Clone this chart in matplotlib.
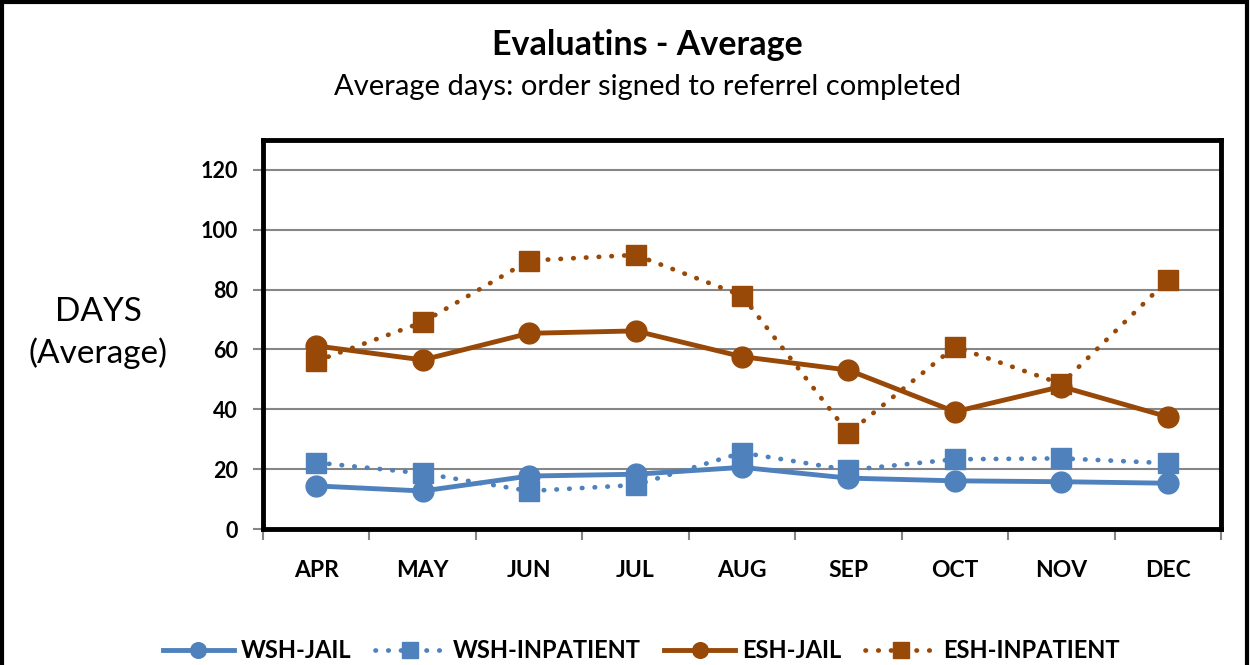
import matplotlib
matplotlib.use("Agg")
import matplotlib.pyplot as plt
from matplotlib.patches import Rectangle

plt.rcParams['font.family'] = ['Lato', 'DejaVu Sans']

months = ["APR", "MAY", "JUN", "JUL", "AUG", "SEP", "OCT", "NOV", "DEC"]
wsh_jail = [14.4, 12.7, 17.7, 18.3, 20.6, 17.0, 16.1, 15.8, 15.3]
wsh_inpatient = [22.2, 18.6, 12.7, 14.7, 25.5, 19.7, 23.3, 23.6, 22.0]
esh_jail = [61.2, 56.5, 65.4, 66.2, 57.6, 53.1, 39.2, 47.6, 37.5]
esh_inpatient = [56.1, 69.1, 89.7, 91.6, 78.0, 32.0, 60.9, 48.5, 83.2]
yticks = [0, 20, 40, 60, 80, 100, 120]

blue = "#4F81BD"
brown = "#984807"

fig = plt.figure(figsize=(12.5, 6.65), dpi=100)
ax = fig.add_axes([263/1250, 1-529/665, (1221-263)/1250, (529-140)/665])

x = list(range(len(months)))
dot = (0, (0.1, 2.6))
ax.plot(x, wsh_jail, color=blue, lw=3.5, marker='o', ms=15, label="WSH-JAIL", zorder=4)
ax.plot(x, wsh_inpatient, color=blue, lw=3.4, ls=dot, dash_capstyle='round', marker='s', ms=14.5, label="WSH-INPATIENT", zorder=3)
ax.plot(x, esh_jail, color=brown, lw=3.5, marker='o', ms=15, label="ESH-JAIL", zorder=4)
ax.plot(x, esh_inpatient, color=brown, lw=3.4, ls=dot, dash_capstyle='round', marker='s', ms=14.5, label="ESH-INPATIENT", zorder=3)

ax.set_xlim(-0.5, len(months) - 0.5)
ax.set_ylim(0, 130)
ax.set_yticks(yticks)
ax.set_yticklabels([str(v) for v in yticks], fontsize=15.5, fontweight='bold')
ax.set_xticks(x)
ax.set_xticklabels(months, fontsize=16.5, fontweight='bold')
ax.tick_params(axis='x', length=0, pad=22)
ax.tick_params(axis='y', length=7, width=1.5, color='#868686', pad=11)
ax.set_xticks([i - 0.5 for i in range(len(months) + 1)], minor=True)
ax.tick_params(axis='x', which='minor', length=8, width=1.5, color='#868686')
ax.grid(axis='y', color='#868686', lw=1.5, zorder=0)
for s in ax.spines.values():
    s.set_color('black')
    s.set_linewidth(3.5)

fig.text(0.518, 1-45/665, "Evaluatins - Average", ha='center', va='center', fontsize=24.5, fontweight='bold')
fig.text(0.518, 1-87/665, "Average days: order signed to referrel completed", ha='center', va='center', fontsize=21)
fig.text(98/1250, 1-333/665, "DAYS\n(Average)", ha='center', va='center', fontsize=24, linespacing=1.4)

leg = fig.legend(loc='center', bbox_to_anchor=(0.513, 1-651/665), ncol=4, frameon=False,
                 prop={'size': 17, 'weight': 'bold'}, handlelength=3.0, columnspacing=1.0,
                 handletextpad=0.3, markerscale=0.75, borderpad=0.1)

fig.patches.append(Rectangle((2/1250, -0.05), 1245/1250, 1.05 - 2/665, transform=fig.transFigure,
                             fill=False, edgecolor='black', lw=3))

fig.savefig("out.png", dpi=100)
